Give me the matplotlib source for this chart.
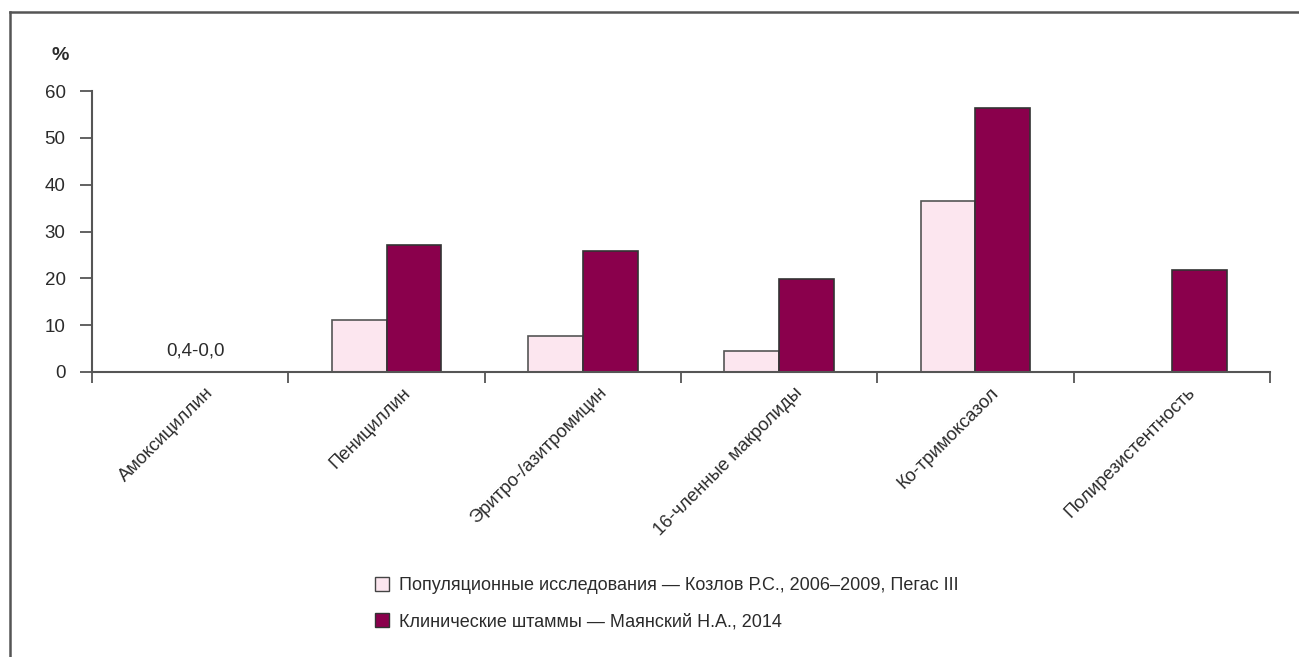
import matplotlib
matplotlib.use("Agg")
import matplotlib.pyplot as plt
import matplotlib.transforms as mtransforms
from matplotlib.patches import Patch
from matplotlib.lines import Line2D
import numpy as np

plt.rcParams['font.family'] = ['Liberation Sans Narrow', 'Liberation Sans', 'DejaVu Sans']

categories = ["Амоксициллин", "Пенициллин", "Эритро-/азитромицин",
              "16-членные макролиды", "Ко-тримоксазол", "Полирезистентность"]
population = [0.0, 11.0, 7.6, 4.5, 36.5, 0.0]
clinical = [0.0, 27.2, 25.8, 19.8, 56.4, 21.8]
series_labels = ["Популяционные исследования — Козлов Р.С., 2006–2009, Пегас III",
                 "Клинические штаммы — Маянский Н.А., 2014"]
amox_note = "0,4-0,0"
yticks = [0, 10, 20, 30, 40, 50, 60]

pink = "#FCE6EF"
dark = "#8A004C"
txt = "#2b2b2b"
axc = "#555555"

fig = plt.figure(figsize=(12.99, 6.57), dpi=100)
ax = fig.add_axes([92/1299, 1-372/657, (1270-92)/1299, (372-91)/657])

x = np.arange(len(categories))
w = 0.28
ax.bar(x - w/2, population, w, color=pink, edgecolor="#555555", linewidth=1.2, zorder=1)
ax.bar(x + w/2, clinical, w, color=dark, edgecolor="#333333", linewidth=1.2, zorder=1)

ax.set_xlim(-0.5, len(categories) - 0.5)
ax.set_ylim(0, 60)
ax.set_yticks(yticks)
ax.set_yticklabels([str(v) for v in yticks])
ax.tick_params(axis='y', direction='out', length=9, width=1.3, color=axc,
               labelsize=13.5, labelcolor=txt, pad=10)

ax.set_xticks(np.arange(len(categories) + 1) - 0.5)
ax.set_xticklabels([])
ax.tick_params(axis='x', which='major', direction='out', length=8, width=1.3, color=axc)
ax.set_xticks(x, minor=True)
ax.set_xticklabels(categories, minor=True, rotation=45, ha='right', va='center',
                   rotation_mode='anchor', fontsize=13.2, color=txt)
ax.tick_params(axis='x', which='minor', length=0, pad=13)
offset = mtransforms.ScaledTranslation(21/100, 0, fig.dpi_scale_trans)
for lab in ax.xaxis.get_minorticklabels():
    lab.set_transform(lab.get_transform() + offset)

for s in ['top', 'right']:
    ax.spines[s].set_visible(False)
for s in ['left', 'bottom']:
    ax.spines[s].set_color(axc)
    ax.spines[s].set_linewidth(1.5)
    ax.spines[s].set_zorder(3)

ax.annotate(amox_note, xy=(x[0], 0), xytext=(4, 9), textcoords='offset points',
            ha='center', va='bottom', fontsize=13.5, color=txt)

fig.text(60/1299, 1-55/657, "%", ha='center', va='center', fontsize=14,
         color=txt, fontweight='bold')

handles = [Patch(facecolor=pink, edgecolor="#444444", linewidth=1.0),
           Patch(facecolor=dark, edgecolor="#333333", linewidth=1.0)]
leg = fig.legend(handles, series_labels, loc='upper left',
                 bbox_to_anchor=(366/1299, 1-568/657), frameon=False,
                 fontsize=13, handlelength=0.8, handleheight=0.8,
                 handletextpad=0.55, labelspacing=1.05, borderpad=0)
for t in leg.get_texts():
    t.set_color(txt)

# outer frame (top and left visible)
fig.add_artist(Line2D([10/1299, 10/1299], [0, 1-12/657], transform=fig.transFigure,
                      color="#555555", linewidth=1.8))
fig.add_artist(Line2D([10/1299, 1], [1-12/657, 1-12/657], transform=fig.transFigure,
                      color="#555555", linewidth=1.8))

fig.savefig("out.png", dpi=100)
